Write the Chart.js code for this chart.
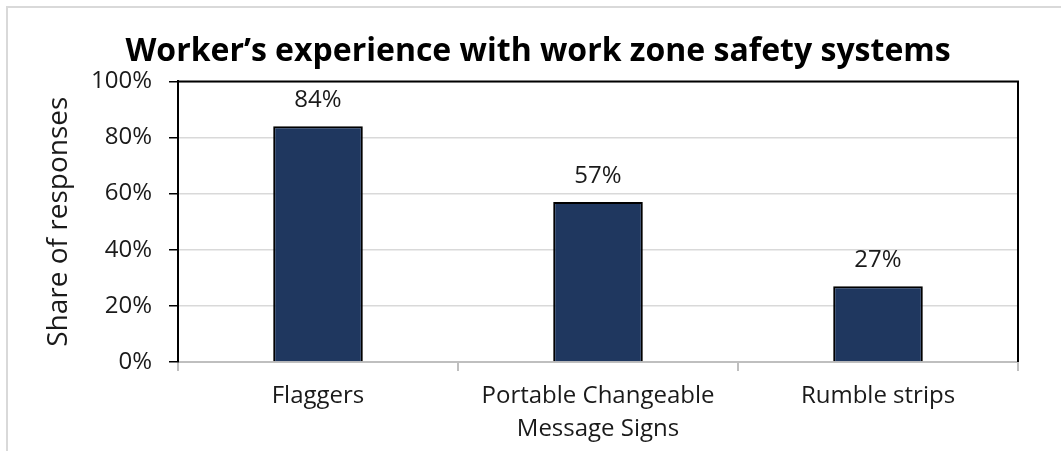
<!DOCTYPE html>
<html>
<head>
<meta charset="utf-8">
<script src="https://cdn.jsdelivr.net/npm/chart.js@4"></script>
<style>
    html, body { margin: 0; padding: 0; background: #fff; }
    #wrap { position: relative; width: 1061px; height: 451px; overflow: hidden; }
    #frame { position: absolute; left: 6px; top: 6px; right: -10px; bottom: -10px; border-top: 2px solid #d9d9d9; border-left: 2px solid #d9d9d9; }
    #chart { position: absolute; left: 0; top: 0; }
</style>
</head>
<body>
<div id="wrap">
    <div id="frame"></div>
    <canvas id="chart" width="1061" height="451"></canvas>
</div>
<script>
// Chart data
const categories = ['Flaggers', ['Portable Changeable', 'Message Signs'], 'Rumble strips'];
const shares = [84, 57, 27];
const yTicks = [0, 20, 40, 60, 80, 100];

const textColor = '#1a1a1a';

// Value labels above the bars
const barLabels = {
    id: 'barLabels',
    afterDatasetsDraw(chart) {
        const ctx = chart.ctx;
        const meta = chart.getDatasetMeta(0);
        ctx.save();
        ctx.font = '24px "Open Sans"';
        ctx.fillStyle = textColor;
        ctx.textAlign = 'center';
        ctx.textBaseline = 'middle';
        meta.data.forEach(function(bar, i) {
            ctx.fillText(shares[i] + '%', bar.x, bar.y - 26);
        });
        ctx.restore();
    }
};

// Black top and right edge of the plot area
const plotBox = {
    id: 'plotBox',
    afterDraw(chart) {
        const a = chart.chartArea;
        const ctx = chart.ctx;
        ctx.save();
        ctx.strokeStyle = '#000';
        ctx.lineWidth = 2;
        ctx.beginPath();
        ctx.moveTo(a.left, a.top);
        ctx.lineTo(a.right, a.top);
        ctx.lineTo(a.right, a.bottom);
        ctx.stroke();
        ctx.restore();
    }
};

const ctx = document.getElementById('chart').getContext('2d');
new Chart(ctx, {
    type: 'bar',
    data: {
        labels: categories,
        datasets: [{
            data: shares,
            backgroundColor: '#1f375f',
            borderColor: '#000',
            borderWidth: 2,
            barPercentage: 0.32,
            categoryPercentage: 1
        }]
    },
    options: {
        responsive: false,
        animation: false,
        layout: {
            padding: { left: 58, right: 43, top: 0, bottom: 0 }
        },
        plugins: {
            legend: { display: false },
            tooltip: { enabled: false },
            title: {
                display: true,
                text: 'Worker\u2019s experience with work zone safety systems',
                color: '#000',
                font: { family: 'Open Sans', size: 32, weight: 'bold' },
                padding: { top: 33, bottom: 10 }
            }
        },
        scales: {
            x: {
                grid: {
                    drawOnChartArea: false,
                    offset: true,
                    tickColor: '#bfbfbf',
                    tickLength: 9,
                    lineWidth: 2
                },
                border: { color: '#bfbfbf', width: 2 },
                ticks: {
                    color: textColor,
                    font: { family: 'Open Sans', size: 24, lineHeight: 1.375 },
                    padding: 9,
                    maxRotation: 0
                },
                afterFit(scale) { scale.height = 89; }
            },
            y: {
                min: 0,
                max: 100,
                afterBuildTicks(scale) {
                    scale.ticks = yTicks.map(v => ({ value: v }));
                },
                grid: {
                    color: '#d9d9d9',
                    lineWidth: 1.5,
                    tickColor: '#000',
                    tickLength: 9
                },
                border: { color: '#000', width: 2 },
                ticks: {
                    color: textColor,
                    font: { family: 'Open Sans', size: 24 },
                    padding: 17,
                    callback: v => v + '%'
                },
                title: {
                    display: true,
                    text: 'Share of responses',
                    color: textColor,
                    font: { family: 'Open Sans', size: 28 },
                    padding: { top: -16, bottom: 0 }
                },
                afterFit(scale) { scale.width = 120; }
            }
        }
    },
    plugins: [barLabels, plotBox]
});
</script>
</body>
</html>
